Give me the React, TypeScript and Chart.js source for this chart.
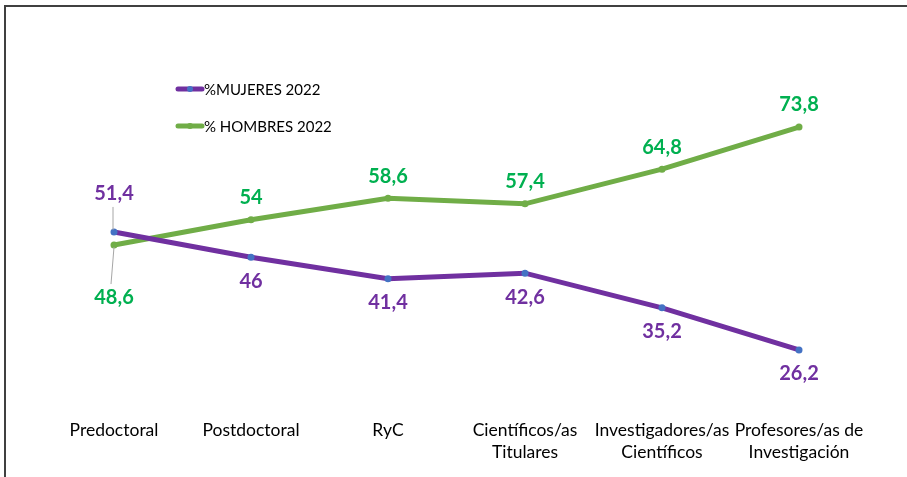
import React, { useEffect, useRef } from "react";
import { Chart, registerables } from "chart.js";

Chart.register(...registerables);

const categories: (string | string[])[] = [
  "Predoctoral",
  "Postdoctoral",
  "RyC",
  ["Científicos/as", "Titulares"],
  ["Investigadores/as", "Científicos"],
  ["Profesores/as de", "Investigación"],
];
const mujeres2022 = [51.4, 46, 41.4, 42.6, 35.2, 26.2];
const hombres2022 = [48.6, 54, 58.6, 57.4, 64.8, 73.8];
const seriesNames = ["%MUJERES 2022", "% HOMBRES 2022"];

const PURPLE = "#7030A0";
const GREEN_LINE = "#70AD47";
const GREEN_TEXT = "#00B050";
const BLUE_DOT = "#4472C4";

const fmt = (v: number) => String(v).replace(".", ",");

const framePlugin = {
  id: "frame",
  beforeDraw(chart: any) {
    const { ctx, width, height } = chart;
    ctx.save();
    ctx.fillStyle = "#ffffff";
    ctx.fillRect(0, 0, width, height);
    ctx.strokeStyle = "#404040";
    ctx.lineWidth = 2;
    ctx.beginPath();
    ctx.moveTo(5, height);
    ctx.lineTo(5, 6);
    ctx.lineTo(width, 6);
    ctx.stroke();
    ctx.restore();
  },
};

const legendPlugin = {
  id: "customLegend",
  afterDraw(chart: any) {
    const ctx = chart.ctx;
    const rows = [
      { y: 89, color: PURPLE, dot: BLUE_DOT },
      { y: 126, color: GREEN_LINE, dot: GREEN_LINE },
    ];
    ctx.save();
    chart.data.datasets.forEach((ds: any, i: number) => {
      const r = rows[i];
      ctx.strokeStyle = r.color;
      ctx.lineWidth = 5;
      ctx.lineCap = "round";
      ctx.beginPath();
      ctx.moveTo(178, r.y);
      ctx.lineTo(202, r.y);
      ctx.stroke();
      ctx.fillStyle = r.dot;
      ctx.beginPath();
      ctx.arc(190, r.y, 3, 0, Math.PI * 2);
      ctx.fill();
      ctx.fillStyle = "#000000";
      ctx.font = "15px Lato";
      ctx.textBaseline = "middle";
      ctx.textAlign = "left";
      ctx.fillText(ds.label, 204, r.y + 1);
    });
    ctx.restore();
  },
};

const valueLabelPlugin = {
  id: "valueLabels",
  afterDatasetsDraw(chart: any) {
    const ctx = chart.ctx;
    ctx.save();
    ctx.font = "bold 20px Lato";
    ctx.textAlign = "center";
    ctx.textBaseline = "middle";
    chart.data.datasets.forEach((ds: any, di: number) => {
      const meta = chart.getDatasetMeta(di);
      meta.data.forEach((pt: any, i: number) => {
        const v = ds.data[i];
        let dy: number;
        if (di === 0) dy = i === 0 ? -38 : 24;
        else dy = i === 0 ? 52 : -22;
        const x = pt.x;
        const y = pt.y + dy;
        if (i === 0) {
          ctx.strokeStyle = "#A6A6A6";
          ctx.lineWidth = 1;
          ctx.beginPath();
          if (di === 0) {
            ctx.moveTo(x - 1, y + 13);
            ctx.lineTo(x - 1, pt.y - 2);
          } else {
            ctx.moveTo(x, pt.y + 2);
            ctx.lineTo(x - 3, y - 13);
          }
          ctx.stroke();
        }
        ctx.fillStyle = di === 0 ? PURPLE : GREEN_TEXT;
        ctx.fillText(fmt(v), x, y);
      });
    });
    ctx.restore();
  },
};

export default function App() {
  const ref = useRef<HTMLCanvasElement>(null);
  useEffect(() => {
    if (!ref.current) return;
    const chart = new Chart(ref.current, {
      type: "line",
      data: {
        labels: categories as any,
        datasets: [
          {
            label: seriesNames[0],
            data: mujeres2022,
            borderColor: PURPLE,
            backgroundColor: BLUE_DOT,
            borderWidth: 5,
            pointRadius: 3.5,
            pointBorderWidth: 0,
            pointBackgroundColor: BLUE_DOT,
            borderCapStyle: "round",
            tension: 0,
          },
          {
            label: seriesNames[1],
            data: hombres2022,
            borderColor: GREEN_LINE,
            backgroundColor: GREEN_LINE,
            borderWidth: 5,
            pointRadius: 3.5,
            pointBorderWidth: 0,
            pointBackgroundColor: GREEN_LINE,
            borderCapStyle: "round",
            tension: 0,
          },
        ],
      },
      options: {
        responsive: false,
        devicePixelRatio: 1,
        animation: false,
        layout: { padding: { left: 45.5, right: 39.5, top: 98, bottom: 14 } },
        plugins: {
          legend: { display: false },
          tooltip: { enabled: false },
        },
        scales: {
          x: {
            offset: true,
            grid: { display: false, drawTicks: false },
            border: { display: false },
            afterFit: (scale: any) => {
              scale.height = 84;
            },
            ticks: {
              color: "#000000",
              font: { family: "Lato", size: 17.5, lineHeight: 1.28 },
              padding: 40,
              maxRotation: 0,
              autoSkip: false,
            },
          },
          y: {
            display: false,
            min: 20,
            max: 80,
          },
        },
      },
      plugins: [framePlugin, valueLabelPlugin, legendPlugin],
    });
    return () => chart.destroy();
  }, []);
  return (
    <div style={{ position: "fixed", left: 0, top: 0, width: 907, height: 477 }}>
      <canvas ref={ref} width={907} height={477} style={{ display: "block", width: 907, height: 477 }} />
    </div>
  );
}
